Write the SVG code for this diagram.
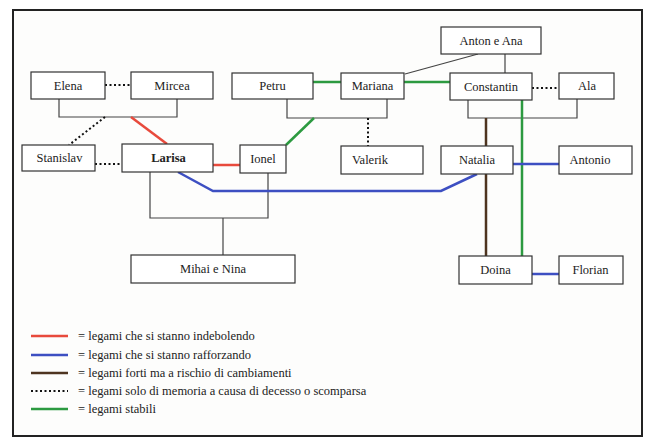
<svg xmlns="http://www.w3.org/2000/svg" width="647" height="446" viewBox="0 0 647 446">
<style>
.b{fill:#fff;stroke:#333;stroke-width:1.2}
.t{font-family:"Liberation Serif",serif;font-size:12.5px;fill:#222;text-anchor:middle}
.l{font-family:"Liberation Serif",serif;font-size:12.5px;fill:#222}
.k{fill:none;stroke:#444;stroke-width:1.2}
.dot{fill:none;stroke:#111;stroke-width:2;stroke-dasharray:2 2.5}
.red{fill:none;stroke:#e84a3c;stroke-width:2.5}
.blue{fill:none;stroke:#3d4fc2;stroke-width:2.5}
.green{fill:none;stroke:#2c9a40;stroke-width:2.5}
.brown{fill:none;stroke:#4e3420;stroke-width:2.5}
</style>
<rect width="647" height="446" fill="#fff"/>
<rect x="13" y="10" width="629" height="426" fill="#fdfdfc" stroke="#222" stroke-width="2"/>
<g id="connectors">
<path class="k" d="M59 99V117H177V99"/>
<path class="k" d="M287 99V118H387V99"/>
<path class="k" d="M468 100V118H577V99"/>
<path class="k" d="M150 172V218H268V173"/>
<path class="k" d="M223 218V255"/>
<path class="k" d="M478 54L405 74"/>
<path class="k" d="M505 54V73"/>
<path class="dot" d="M105 85H131"/>
<path class="dot" d="M532 88H558"/>
<path class="dot" d="M95 164H122"/>
<path class="dot" d="M105 117L69 145"/>
<path class="dot" d="M368 118V146"/>
<path class="red" d="M131 117L167 144"/>
<path class="red" d="M213 165H240"/>
<path class="green" d="M313 82H341"/>
<path class="green" d="M404 82H450"/>
<path class="green" d="M286 145L314 118"/>
<path class="green" d="M522 100V256"/>
<path class="brown" d="M486 118V256"/>
<path class="blue" d="M178 172L213 191H441L477 174"/>
<path class="blue" d="M513 164H559"/>
<path class="blue" d="M532 274H559"/>
</g>
<g id="elena"><rect class="b" x="31" y="72" width="74" height="27"/><text class="t" x="68" y="90">Elena</text></g>
<g id="mircea"><rect class="b" x="131" y="72" width="82" height="27"/><text class="t" x="172" y="90">Mircea</text></g>
<g id="petru"><rect class="b" x="232" y="73" width="81" height="26"/><text class="t" x="272.5" y="90">Petru</text></g>
<g id="mariana"><rect class="b" x="341" y="73" width="63" height="26"/><text class="t" x="372.5" y="90">Mariana</text></g>
<g id="anton"><rect class="b" x="441" y="27" width="100" height="27"/><text class="t" x="491" y="45">Anton e Ana</text></g>
<g id="constantin"><rect class="b" x="450" y="73" width="82" height="27"/><text class="t" x="491" y="91">Constantin</text></g>
<g id="ala"><rect class="b" x="559" y="73" width="55" height="26"/><text class="t" x="587" y="90">Ala</text></g>
<g id="stanislav"><rect class="b" x="22" y="145" width="73" height="26"/><text class="t" x="59.5" y="162">Stanislav</text></g>
<g id="larisa"><rect class="b" x="122" y="144" width="91" height="28"/><text class="t" x="168.5" y="162" font-weight="bold">Larisa</text></g>
<g id="ionel"><rect class="b" x="240" y="145" width="46" height="28"/><text class="t" x="263" y="163">Ionel</text></g>
<g id="valerik"><rect class="b" x="341" y="146" width="82" height="28"/><text class="t" x="370" y="164">Valerik</text></g>
<g id="natalia"><rect class="b" x="441" y="146" width="72" height="28"/><text class="t" x="477" y="164">Natalia</text></g>
<g id="antonio"><rect class="b" x="559" y="146" width="73" height="28"/><text class="t" x="590" y="164">Antonio</text></g>
<g id="mihai"><rect class="b" x="131" y="255" width="164" height="28"/><text class="t" x="213" y="273">Mihai e Nina</text></g>
<g id="doina"><rect class="b" x="459" y="256" width="73" height="28"/><text class="t" x="495.5" y="274">Doina</text></g>
<g id="florian"><rect class="b" x="559" y="256" width="64" height="28"/><text class="t" x="590.5" y="274">Florian</text></g>
<g id="legend">
<path class="red" d="M31 336H68"/>
<path class="blue" d="M31 355H68"/>
<path class="brown" d="M31 373H68"/>
<path class="dot" d="M31 391H68"/>
<path class="green" d="M31 409H68"/>
<text class="l" x="78" y="340">= legami che si stanno indebolendo</text>
<text class="l" x="78" y="359">= legami che si stanno rafforzando</text>
<text class="l" x="78" y="377">= legami forti ma a rischio di cambiamenti</text>
<text class="l" x="78" y="395">= legami solo di memoria a causa di decesso o scomparsa</text>
<text class="l" x="78" y="413">= legami stabili</text>
</g>
</svg>
